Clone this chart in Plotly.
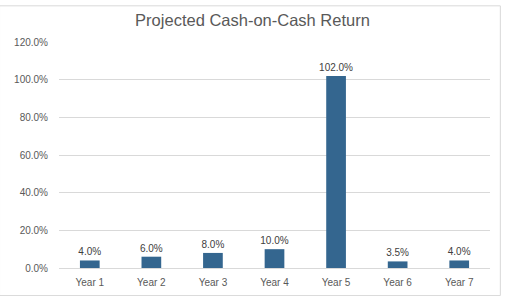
import plotly.graph_objects as go

categories = ["Year 1", "Year 2", "Year 3", "Year 4", "Year 5", "Year 6", "Year 7"]
returns_pct = [4.0, 6.0, 8.0, 10.0, 102.0, 3.5, 4.0]
y_ticks = [0, 20, 40, 60, 80, 100, 120]
y_tick_labels = ["0.0%", "20.0%", "40.0%", "60.0%", "80.0%", "100.0%", "120.0%"]

fig = go.Figure(go.Bar(
    x=categories, y=returns_pct,
    marker=dict(color="#34668F", line=dict(width=0)),
    width=0.32,
    texttemplate="%{y:.1f}%", textposition="outside", constraintext="none",
    textfont=dict(size=10, color="#404040", family="Liberation Sans"),
    cliponaxis=False,
))

fig.update_layout(
    width=505, height=296,
    margin=dict(l=59, r=15, t=42, b=28),
    paper_bgcolor="white", plot_bgcolor="white",
    title=dict(text="Projected Cash-on-Cash Return", x=0.5, xanchor="center",
               y=0.932, yanchor="middle",
               font=dict(size=16.5, color="#595959", family="Liberation Sans")),
    showlegend=False,
    xaxis=dict(showgrid=False, showline=True, linecolor="#d9d9d9", linewidth=1,
               ticks="", ticklabelstandoff=5, automargin=False,
               tickfont=dict(size=10, color="#595959", family="Liberation Sans")),
    yaxis=dict(range=[0, 120], tickvals=y_ticks, ticktext=y_tick_labels,
               showgrid=True, gridcolor="#d9d9d9", gridwidth=1, zeroline=False,
               showline=False, ticks="", ticklabelstandoff=10, automargin=False,
               tickfont=dict(size=10, color="#595959", family="Liberation Sans")),
    shapes=[dict(type="rect", xref="paper", yref="paper", x0=-0.138, x1=1.024,
                 y0=-0.122, y1=1.16, line=dict(color="#d9d9d9", width=1))],
)

fig.write_html("out.html")
